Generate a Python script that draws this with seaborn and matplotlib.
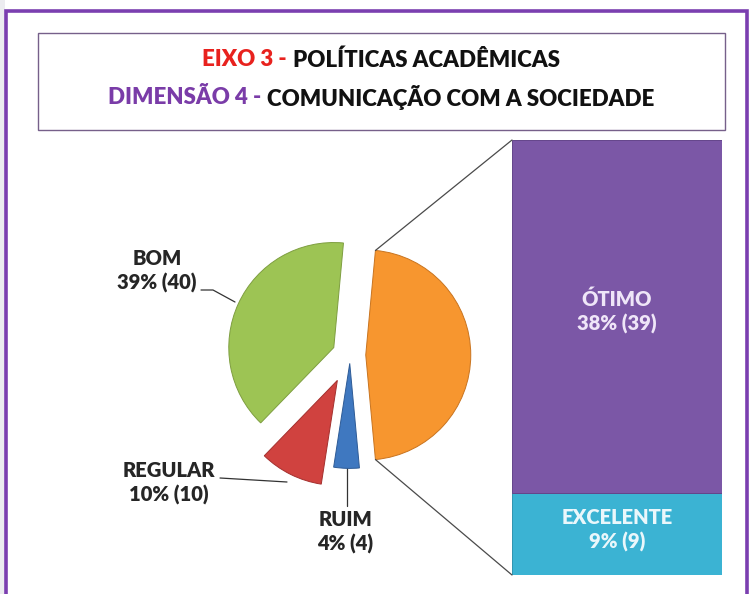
import numpy as np
import matplotlib
matplotlib.use("Agg")
import matplotlib.pyplot as plt
import seaborn as sns
from matplotlib.patches import Rectangle, ConnectionPatch

# dados do grafico (pizza de barra)
pie_labels = ['Outra', 'BOM', 'REGULAR', 'RUIM']
pie_counts = [48, 40, 10, 4]
pie_pct = ['47%', '39%', '10%', '4%']
bar_labels = ['EXCELENTE', 'ÓTIMO']
bar_counts = [9, 39]
bar_pct = ['9%', '38%']

pie_colors = ['#F7962F', '#9DC454', '#D0423F', '#3F78C0']
pie_edges = ['#C9741F', '#7E9E40', '#A4302E', '#2E5B96']
bar_colors = ['#3BB3D3', '#7B57A6']

sns.set_theme(style='white')
plt.rcParams['font.family'] = ['Lato', 'DejaVu Sans']
FW = 'heavy'

W, H = 752, 594
fig = plt.figure(figsize=(W / 100, H / 100), dpi=100)
fig.patch.set_facecolor('white')

# fundo em pixels para moldura, titulo e rotulos
bg = fig.add_axes([0, 0, 1, 1])
bg.set_xlim(0, W)
bg.set_ylim(H, 0)
bg.axis('off')
bg.add_patch(Rectangle((0, 0), 5, H, facecolor='#ECECF0', edgecolor='none'))
bg.add_patch(Rectangle((6, 11), 741, 600, facecolor='white', edgecolor='#7B3FB0', lw=2.6))
bg.add_patch(Rectangle((38, 33), 687, 97, facecolor='white', edgecolor='#76608A', lw=1.0))

renderer = fig.canvas.get_renderer()


def colored_line(y, parts, size, xc=381):
    texts = [bg.text(0, y, s, color=c, fontsize=size, fontweight=FW,
                     ha='left', va='center') for s, c in parts]
    widths = [t.get_window_extent(renderer).width for t in texts]
    gap = size * 0.35
    x = xc - (sum(widths) + gap * (len(parts) - 1)) / 2
    for t, w in zip(texts, widths):
        t.set_x(x)
        x += w + gap


colored_line(60, [('EIXO 3 -', '#E8221E'), ('POLÍTICAS ACADÊMICAS', '#111111')], 16)
colored_line(97, [('DIMENSÃO 4 -', '#7A3CA8'), ('COMUNICAÇÃO COM A SOCIEDADE', '#111111')], 16)

# pizza
R = 105
cx, cy = 350, 355
ax_pie = fig.add_axes([(cx - 2 * R) / W, (H - cy - 2 * R) / H, 4 * R / W, 4 * R / H])
total = sum(pie_counts)
start = -pie_counts[0] / total * 360 / 2
wedges, _ = ax_pie.pie(pie_counts, colors=pie_colors, startangle=start, counterclock=True,
                       explode=[0.15, 0.17, 0.27, 0.08], radius=1,
                       wedgeprops=dict(linewidth=0.7))
for w, ec in zip(wedges, pie_edges):
    w.set_edgecolor(ec)
ax_pie.set_xlim(-2, 2)
ax_pie.set_ylim(-2, 2)
ax_pie.set_aspect('equal')
ax_pie.axis('off')

# barra empilhada
ax_bar = fig.add_axes([512 / W, 1 - 575 / H, 210 / W, 435 / H])
bottoms = np.cumsum([0] + bar_counts[:-1])
ax_bar.bar([0] * len(bar_counts), bar_counts, bottom=bottoms, width=1,
           color=bar_colors, edgecolor=['#2E94B0', '#64448A'], linewidth=0.7)
ax_bar.set_xlim(-0.5, 0.5)
ax_bar.set_ylim(0, sum(bar_counts))
ax_bar.axis('off')
bar_text_colors = ['#EAF7FB', '#EFE6F8']
for b, h, lab, pct, tc in zip(bottoms, bar_counts, bar_labels, bar_pct, bar_text_colors):
    ax_bar.text(0, b + h / 2 + 0.5, f'{lab}\n{pct} ({h})', ha='center', va='center',
                fontsize=14.5, fontweight=FW, color=tc, linespacing=1.3)

# linhas de ligacao entre a fatia "Outra" e a barra
ow = wedges[0]
ocx, ocy = ow.center
for ang, yb in [(ow.theta2, sum(bar_counts)), (ow.theta1, 0)]:
    a = np.deg2rad(ang)
    pt = (ocx + np.cos(a), ocy + np.sin(a))
    con = ConnectionPatch(xyA=pt, coordsA=ax_pie.transData, xyB=(-0.5, yb),
                          coordsB=ax_bar.transData, color='#4A4A4A', lw=0.9)
    fig.add_artist(con)

# rotulos da pizza
lab_kw = dict(ha='center', va='center', fontsize=14.5, fontweight=FW,
              color='#262626', linespacing=1.25)
bg.text(157, 271, f'{pie_labels[1]}\n{pie_pct[1]} ({pie_counts[1]})', **lab_kw)
bg.text(169, 483, f'{pie_labels[2]}\n{pie_pct[2]} ({pie_counts[2]})', **lab_kw)
bg.text(345, 532, f'{pie_labels[3]}\n{pie_pct[3]} ({pie_counts[3]})', **lab_kw)
bg.text(430, 375, f'{pie_labels[0]}\n{pie_pct[0]}', ha='center', va='center',
        fontsize=14.5, fontweight=FW, color='#3A2612', linespacing=1.25)

lead = dict(color='#333333', lw=0.9)
bg.plot([201, 213, 235], [290, 290, 302], **lead)
bg.plot([220, 287], [478, 482], **lead)
bg.plot([347, 347], [467, 506], **lead)

fig.savefig('out.png', dpi=100)
